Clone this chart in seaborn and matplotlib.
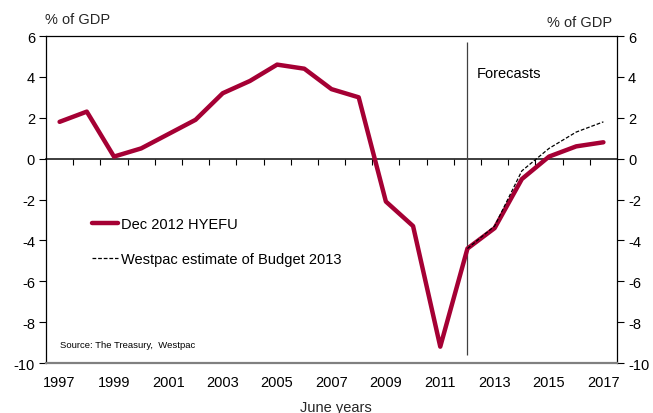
import matplotlib
matplotlib.use("Agg")
import matplotlib.pyplot as plt
import seaborn as sns
import pandas as pd
import numpy as np

years = list(range(1997, 2018))
hyefu = [1.8, 2.3, 0.1, 0.5, 1.2, 1.9, 3.2, 3.8, 4.6, 4.4, 3.4, 3.0,
         -2.1, -3.3, -9.2, -4.4, -3.4, -1.0, 0.1, 0.6, 0.8]
wbc_years = [2012, 2013, 2014, 2015, 2016, 2017]
westpac = [-4.4, -3.3, -0.6, 0.5, 1.3, 1.8]
yticks = [-10, -8, -6, -4, -2, 0, 2, 4, 6]
xtick_years = list(range(1997, 2018, 2))

sns.set_theme(style="white")
plt.rcParams['font.family'] = ['Liberation Sans', 'DejaVu Sans']

FS = 10.5

fig = plt.figure(figsize=(6.53, 4.14), dpi=100)
ax = fig.add_axes([46/653, 1-364/414, (617-46)/653, (364-37)/414])

df1 = pd.DataFrame({"year": years, "val": hyefu})
df2 = pd.DataFrame({"year": wbc_years, "val": westpac})

sns.lineplot(data=df1, x="year", y="val", ax=ax, color="#A50034", linewidth=3.2,
             label="Dec 2012 HYEFU", zorder=3)
sns.lineplot(data=df2, x="year", y="val", ax=ax, color="black", linewidth=0.9,
             linestyle=(0, (3, 1.5)), label="Westpac estimate of Budget 2013", zorder=4)

ax.set_xlim(1996.5, 2017.5)
ax.set_ylim(-10, 6)
ax.set_xlabel("")
ax.set_ylabel("")

ax.set_xticks(xtick_years)
ax.set_xticklabels([str(y) for y in xtick_years])
ax.tick_params(axis='x', length=0, pad=9, labelsize=FS, colors='black')
ax.set_yticks(yticks)
ax.set_yticklabels([str(v) for v in yticks])
ax.tick_params(axis='y', which='both', left=True, right=True, labelleft=True, labelright=True,
               direction='out', length=5, width=0.8, labelsize=FS, colors='black', pad=3)

for s in ['left', 'right', 'top']:
    ax.spines[s].set_color('black')
    ax.spines[s].set_linewidth(0.9)
    ax.spines[s].set_visible(True)
ax.spines['bottom'].set_color('#808080')
ax.spines['bottom'].set_linewidth(1.6)
ax.spines['bottom'].set_visible(True)

# zero axis with ticks between years
sec = ax.secondary_xaxis(10/16)
sec.set_xticks(np.arange(1997.5, 2017.5, 1.0))
sec.tick_params(axis='x', direction='out', length=4, width=0.8, labelbottom=False,
                labeltop=False, bottom=True, top=False, colors='black')
sec.spines['bottom'].set_color('black')
sec.spines['bottom'].set_linewidth(0.9)
sec.set_xticklabels([])

ax.vlines(2012, -9.6, 5.7, color='#404040', linewidth=0.9, zorder=2)
ax.text(2012.35, 4.2, "Forecasts", fontsize=FS, ha='left', va='center', color='black')

leg = ax.legend(loc='center left', bbox_to_anchor=((92-46)/571, (364-242.5)/327),
                frameon=False, fontsize=FS, handlelength=1.8, handletextpad=0.2,
                labelspacing=1.4, borderpad=0, borderaxespad=0)
for t in leg.get_texts():
    t.set_color('black')

ax.text(1997.0, -9.1, "Source: The Treasury,  Westpac", fontsize=6.8, ha='left', va='center',
        color='black')

fig.text(45/653, 1-20/414, "% of GDP", fontsize=FS, ha='left', va='center')
fig.text(612/653, 1-23/414, "% of GDP", fontsize=FS, ha='right', va='center')
fig.text(336/653, 1-408/414, "June years", fontsize=FS, ha='center', va='center')

fig.savefig("out.png", dpi=100)
